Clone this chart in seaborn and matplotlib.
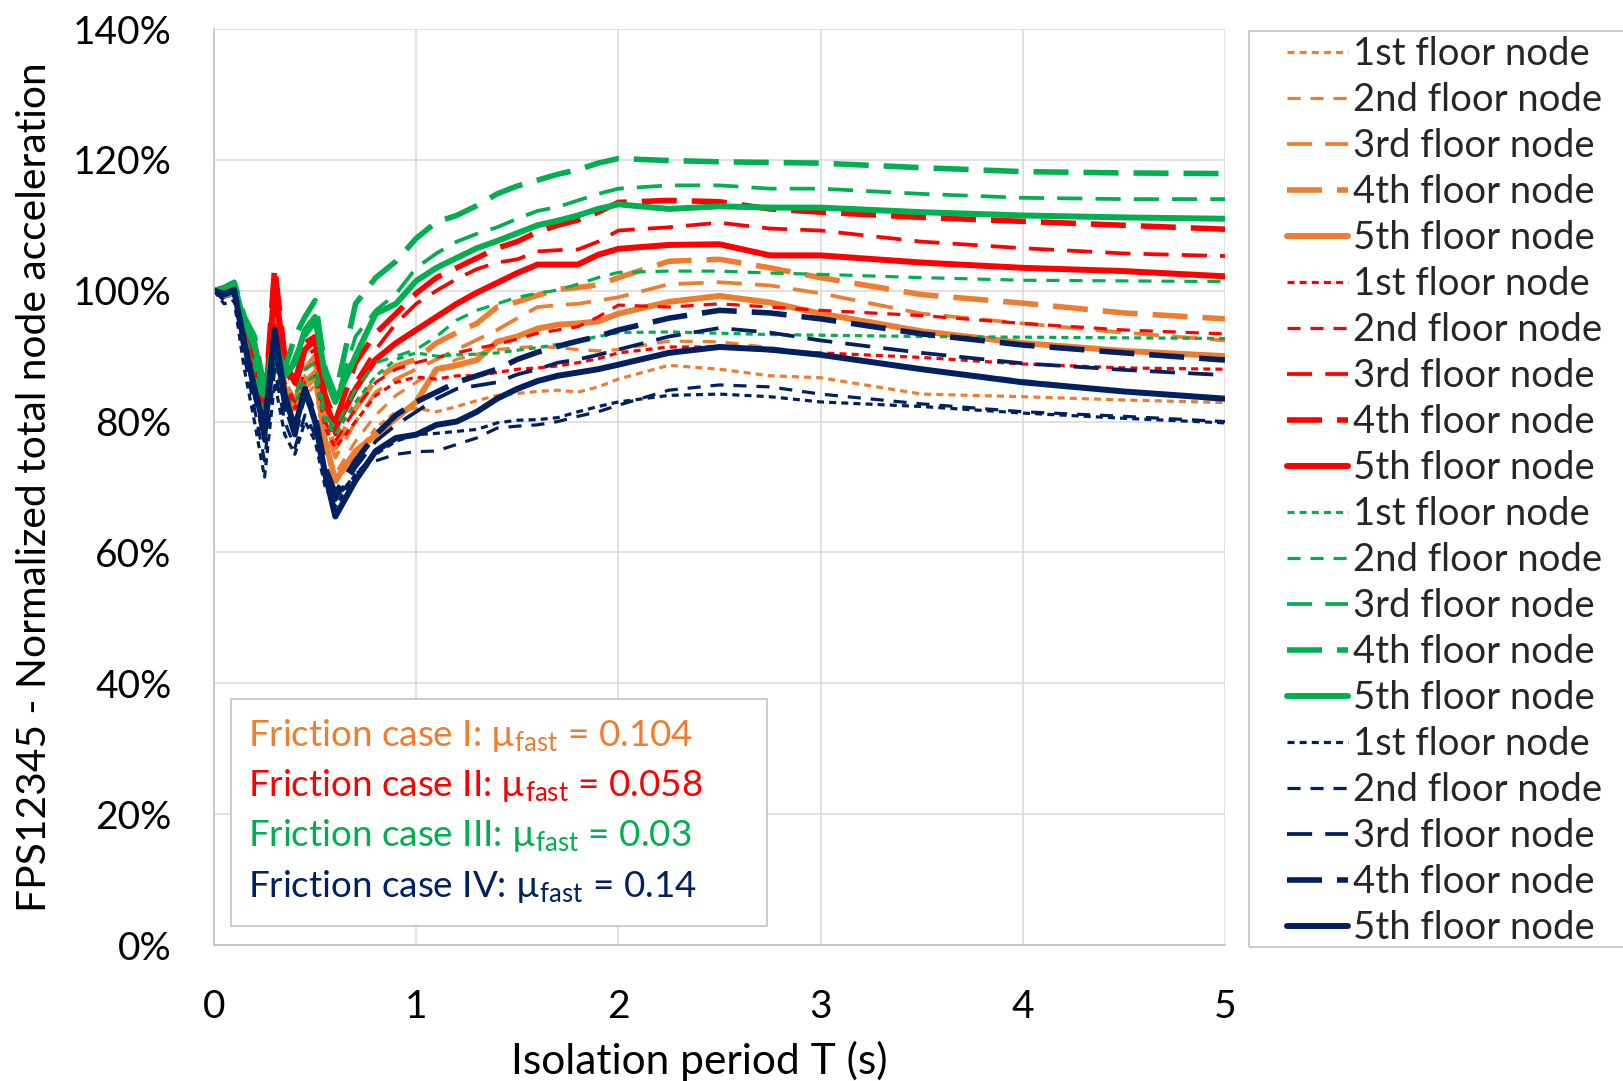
import numpy as np
import pandas as pd
import matplotlib
matplotlib.use("Agg")
import matplotlib.pyplot as plt
import seaborn as sns
from matplotlib.lines import Line2D
from matplotlib.patches import Rectangle
from matplotlib.ticker import MultipleLocator, FuncFormatter

sns.set_style("white")
plt.rcParams["font.family"] = ["Lato", "DejaVu Sans"]
plt.rcParams["mathtext.fontset"] = "custom"
plt.rcParams["mathtext.rm"] = "Lato"
plt.rcParams["mathtext.it"] = "Lato:italic"
plt.rcParams["mathtext.bf"] = "Lato:bold"

# ---------------- data (isolation period T in s, normalized acceleration in %) ----------------
periods = [0, 0.05, 0.1, 0.15, 0.2, 0.25, 0.3, 0.35, 0.4, 0.45, 0.5, 0.55, 0.6, 0.7, 0.8, 0.9,
           1.0, 1.1, 1.2, 1.3, 1.4, 1.5, 1.6, 1.7, 1.8, 1.9, 2.0, 2.25, 2.5, 2.75, 3.0, 3.5, 4.0, 4.5, 5.0]

# Friction case I (orange)
case1_floor1 = [100, 99, 99.5, 92, 87, 77, 93, 83, 80, 84, 85.5, 76, 70.5, 75, 79, 81.5, 82, 81.5, 82.3, 83.2, 84, 84.3, 84.6, 84.8, 84.5, 85.3, 86.5, 88.6, 88, 87, 86.7, 84.2, 83.8, 83.3, 82.9]
case1_floor2 = [100, 99.5, 100, 93, 87.5, 78, 94, 84, 81, 85, 86.5, 77, 72, 77, 81, 84, 86, 88, 89.5, 90.3, 91, 91.3, 91.5, 91.3, 91, 90.8, 91, 92.3, 92.2, 91.3, 90.3, 88, 86.3, 84.6, 83.2]
case1_floor3 = [100, 99.7, 100.5, 93.5, 88.5, 79, 96, 85, 82, 87, 88.5, 79, 74.5, 80, 84.5, 86.5, 88, 89.5, 91, 92.5, 94, 95.8, 97.5, 97.8, 98, 98.5, 99, 101, 101.3, 100.8, 99.6, 96.5, 95, 93.6, 92.4]
case1_floor4 = [100, 100, 100.7, 94, 89, 80, 97, 86, 83, 88, 90, 80, 76, 82, 86.5, 88.5, 89.5, 92, 93.6, 95, 97.5, 98.3, 99.3, 100.2, 100.5, 100.9, 102, 104.5, 104.8, 103.5, 102, 99.4, 98.1, 96.6, 95.7]
case1_floor5 = [100, 99.8, 100.5, 93.5, 88, 79, 96, 85, 82, 86, 87.5, 77, 71, 75.5, 78, 80.5, 83, 88, 88.6, 89.4, 92.2, 93, 94.2, 94.8, 95, 95.3, 96.5, 98.3, 99.2, 98.2, 96.5, 93.8, 92, 90.8, 90]

# Friction case II (red)
case2_floor1 = [100, 99, 99.5, 92, 87, 78, 95, 85, 82, 86, 87, 79, 76, 80, 84, 86, 86.8, 86.5, 87, 87, 87.5, 88, 88.2, 88.5, 89, 89.6, 90.5, 91.4, 91.4, 90.8, 90.5, 89.8, 88.8, 88.2, 88]
case2_floor2 = [100, 99, 100, 93, 88, 79, 97, 86, 83, 88, 89, 80, 77, 82, 86, 88, 89, 89.8, 90.5, 91.2, 91.8, 92.6, 93.5, 94, 94.5, 96, 97.8, 97.5, 98, 97.5, 97, 96.2, 95, 94, 93.4]
case2_floor3 = [100, 99.5, 100.5, 94, 89, 81, 100, 88, 85, 90, 91, 82, 78, 86, 91, 95, 98, 100, 101.8, 103.3, 104.3, 104.8, 106, 106.2, 106.3, 107.5, 109.2, 109.7, 110.4, 109.5, 109.2, 107.5, 106.5, 105.7, 105.3]
case2_floor4 = [100, 99.8, 100.8, 95, 90, 82, 103.6, 90, 86, 92, 93, 84, 80, 89, 93.5, 96.5, 99.6, 102, 103.5, 105, 106.5, 107.5, 109, 110, 110.8, 112, 113.5, 113.8, 113.6, 112.5, 112, 111.2, 110.6, 110, 109.4]
case2_floor5 = [100, 99.7, 100.5, 94.5, 90, 81, 101, 89, 86, 91, 92.5, 83, 79, 85, 89.5, 92, 94, 96, 98, 99.7, 101.2, 102.7, 104, 104, 104, 105.5, 106.4, 107, 107.1, 105.4, 105.4, 104.3, 103.5, 103, 102.2]

# Friction case III (green)
case3_floor1 = [100, 99, 99.5, 92, 88, 79, 89, 83, 83, 86, 87, 80, 78, 83, 87, 89.5, 90.5, 90, 90.2, 90.3, 90.5, 90.9, 91.3, 91.8, 92.4, 93, 93.6, 93.7, 93.5, 93.3, 93.2, 93, 92.9, 92.8, 92.7]
case3_floor2 = [100, 99.5, 100, 93, 89, 80, 90, 84, 84, 88, 89, 81, 79, 85, 89, 90, 91, 93, 95.5, 97, 98, 99, 99.6, 100.1, 101, 102, 102.8, 103, 103, 102.7, 102.5, 102, 101.6, 101.5, 101.4]
case3_floor3 = [100, 100, 101, 95, 91, 83, 90, 86, 90, 93, 95, 87, 83, 93, 97, 99.5, 103.5, 105.7, 107.5, 108.7, 109.7, 111, 112.2, 112.8, 113.8, 114.8, 115.6, 116.1, 116.1, 115.6, 115.6, 114.8, 114.2, 114, 114]
case3_floor4 = [100, 100.5, 101.3, 96, 93, 85, 92, 88, 93, 96, 98.5, 88, 84, 98, 102, 104.5, 108, 110.5, 111.5, 113, 114.8, 116, 116.9, 117.8, 118.5, 119.5, 120.2, 119.9, 119.7, 119.6, 119.5, 118.8, 118.2, 118, 117.9]
case3_floor5 = [100, 100.3, 101, 95, 92, 84, 93, 87, 89, 94, 96, 87, 83, 90, 96.5, 98, 101.5, 103.5, 105, 106.5, 107.6, 108.8, 110, 110.7, 111.5, 112.5, 113.2, 112.5, 112.9, 112.7, 112.7, 112, 111.5, 111.2, 111]

# Friction case IV (navy)
case4_floor1 = [100, 98, 98.5, 88, 80, 71.5, 86, 78, 75, 80, 77, 70, 67, 72, 75, 77, 78, 78.2, 78.5, 78.8, 79.8, 80.2, 80.3, 80.6, 81.5, 82.3, 83, 84, 84.2, 83.8, 83, 82.3, 81.3, 80.5, 79.8]
case4_floor2 = [100, 98.5, 99.5, 90, 82, 74, 88, 80, 76, 81, 78, 71, 68, 72, 74, 75, 75.4, 75.5, 76.5, 77.5, 79, 79.3, 79.5, 80, 80.8, 81.5, 82.5, 84.8, 85.6, 85.3, 84.2, 82.7, 81.5, 80.8, 80]
case4_floor3 = [100, 99.3, 100, 91.5, 84, 77, 91, 82, 78, 84, 80, 72, 68, 73, 77, 79.5, 81.5, 83.5, 85, 85.5, 86, 87.2, 88, 89, 89.5, 90.2, 91, 93, 94.3, 93.6, 92.4, 90.5, 88.9, 87.9, 87.1]
case4_floor4 = [100, 99.5, 100.2, 92, 85, 78, 93, 83, 78, 85, 81, 73, 69, 74, 78, 81, 83, 84.5, 86, 87, 88, 89.5, 90.6, 91.5, 92.3, 93, 94, 95.8, 97, 96.6, 95.7, 93.4, 91.7, 90.5, 89.4]
case4_floor5 = [100, 99.5, 100, 92, 85, 79, 94, 84, 79, 85, 80, 72, 65.5, 71, 75.5, 77.5, 78, 79.5, 80, 81.5, 83.5, 85, 86.2, 87, 87.5, 88, 88.7, 90.5, 91.4, 91, 90.2, 88, 86, 84.6, 83.5]

cases = ["I", "II", "III", "IV"]
floors = ["1st floor node", "2nd floor node", "3rd floor node", "4th floor node", "5th floor node"]
case_colors = ["#ED7D31", "#FF0000", "#00B050", "#002060"]
case_labels = [r"Friction case I: $\mathrm{µ}_{\mathrm{fast}}$ = 0.104",
               r"Friction case II: $\mathrm{µ}_{\mathrm{fast}}$ = 0.058",
               r"Friction case III: $\mathrm{µ}_{\mathrm{fast}}$ = 0.03",
               r"Friction case IV: $\mathrm{µ}_{\mathrm{fast}}$ = 0.14"]

series = [
    [case1_floor1, case1_floor2, case1_floor3, case1_floor4, case1_floor5],
    [case2_floor1, case2_floor2, case2_floor3, case2_floor4, case2_floor5],
    [case3_floor1, case3_floor2, case3_floor3, case3_floor4, case3_floor5],
    [case4_floor1, case4_floor2, case4_floor3, case4_floor4, case4_floor5],
]

rows = []
for c, case in enumerate(cases):
    for f, floor in enumerate(floors):
        for t, v in zip(periods, series[c][f]):
            rows.append({"T": t, "acc": v, "case": case, "floor": floor})
df = pd.DataFrame(rows)

# ---------------- styles ----------------
floor_widths = {floors[0]: 2.3, floors[1]: 2.3, floors[2]: 2.7, floors[3]: 4.0, floors[4]: 4.3}
floor_dashes = {floors[0]: (2.2, 1.6), floors[1]: (4.1, 3.1), floors[2]: (6.7, 3.5),
                floors[3]: (6.3, 2.7), floors[4]: ""}
palette = dict(zip(cases, case_colors))

W, H = 1623, 1081
fig = plt.figure(figsize=(W / 100, H / 100), dpi=100)
ax = fig.add_axes([214 / W, 1 - 945 / H, 1011 / W, 916 / H])

sns.lineplot(data=df, x="T", y="acc", hue="case", style="floor", size="floor",
             palette=palette, dashes=floor_dashes, sizes=floor_widths,
             hue_order=cases, style_order=floors, size_order=floors,
             estimator=None, sort=False, legend=False, ax=ax)

ax.set_xlim(0, 5)
ax.set_ylim(0, 140)
ax.xaxis.set_major_locator(MultipleLocator(1))
ax.xaxis.set_minor_locator(MultipleLocator(0.2))
ax.yaxis.set_major_locator(MultipleLocator(20))
ax.yaxis.set_minor_locator(MultipleLocator(4))
ax.yaxis.set_major_formatter(FuncFormatter(lambda v, p: f"{v:.0f}%"))
ax.xaxis.set_major_formatter(FuncFormatter(lambda v, p: f"{v:.0f}"))
ax.grid(True, which="major", color="#D9D9D9", lw=1.1)
ax.set_axisbelow(True)
for s in ["top", "right"]:
    ax.spines[s].set_visible(False)
for s in ["left", "bottom"]:
    ax.spines[s].set_color("#BFBFBF")
    ax.spines[s].set_linewidth(1.1)
ax.tick_params(which="major", direction="out", length=8.6, width=1.1, color="#BFBFBF",
               labelsize=28, labelcolor="#000000")
ax.tick_params(which="minor", direction="in", length=8, width=1.1, color="#BFBFBF")
ax.tick_params(axis="y", which="major", pad=22)
ax.tick_params(axis="x", which="major", pad=23)
ax.set_xlabel("")
ax.set_ylabel("")

fig.text(35 / W, 1 - 487 / H, "FPS12345 - Normalized total node acceleration",
         rotation=90, ha="center", va="center", fontsize=29.3, color="#000000")
fig.text(699 / W, 1 - 1074 / H, "Isolation period T (s)", ha="center", va="baseline",
         fontsize=30.6, color="#000000")

# ---------------- legend ----------------
handles = []
labels = []
for c, case in enumerate(cases):
    for f, floor in enumerate(floors):
        d = floor_dashes[floor]
        if d == "":
            h = Line2D([], [], color=case_colors[c], lw=floor_widths[floor], ls="-")
        else:
            h = Line2D([], [], color=case_colors[c], lw=floor_widths[floor], dashes=d)
        handles.append(h)
        labels.append(floor)
fig.add_artist(Rectangle((1249 / W, 1 - 947 / H), 0.3, 916 / H, transform=fig.transFigure,
                         fill=False, ec="#BFBFBF", lw=1.1))
fig.legend(handles, labels, loc="upper left", bbox_to_anchor=(1287 / W, 1 - 36 / H),
           frameon=False, borderpad=0, borderaxespad=0, handlelength=1.6,
           handletextpad=0.13, labelspacing=0.262, fontsize=27.5)

# ---------------- friction-case box ----------------
box = Rectangle((231 / W, 1 - 926 / H), 536 / W, 227 / H, transform=fig.transFigure,
                facecolor="white", edgecolor="#BFBFBF", lw=1.1, zorder=5, clip_on=False)
ax.add_patch(box)
for i, (lab, col) in enumerate(zip(case_labels, case_colors)):
    ax.text(248 / W, 1 - (735 + 50.5 * i) / H, lab, transform=fig.transFigure, color=col,
            fontsize=26.5, ha="left", va="center", zorder=6)

fig.savefig("out.png", dpi=100)
